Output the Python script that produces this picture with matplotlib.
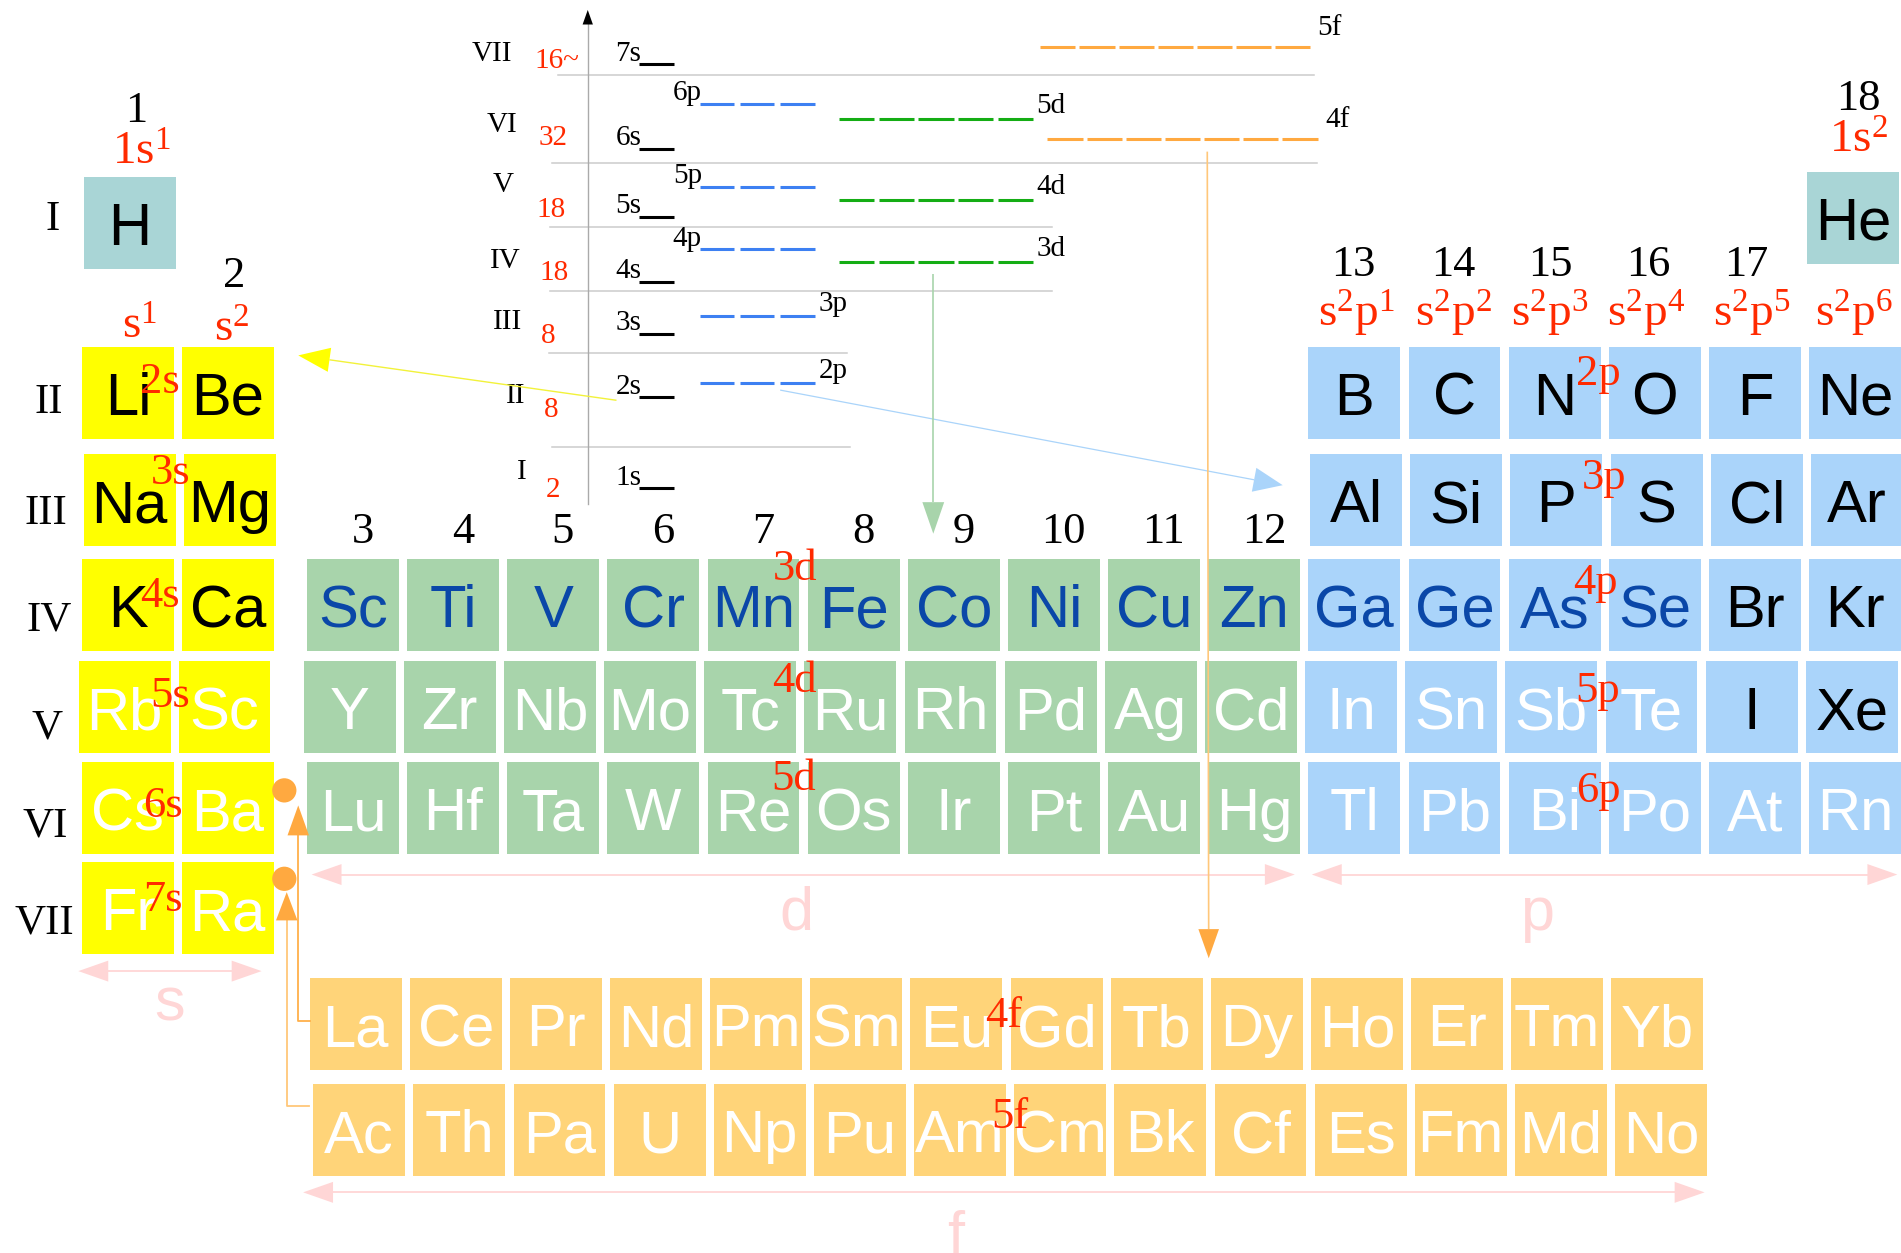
import numpy as np
import matplotlib
matplotlib.use('Agg')
import matplotlib.pyplot as plt
from matplotlib.patches import Rectangle, Polygon, Circle

plt.rcParams['mathtext.fontset'] = 'custom'
plt.rcParams['mathtext.rm'] = 'Liberation Serif'
plt.rcParams['mathtext.it'] = 'Liberation Serif:italic'

SANS = 'Liberation Sans'
SERIF = 'Liberation Serif'

# ---------------------------------------------------------------- data
periods = ['I', 'II', 'III', 'IV', 'V', 'VI', 'VII']

s_symbols = [['Li', 'Be'], ['Na', 'Mg'], ['K', 'Ca'],
             ['Rb', 'Sc'], ['Cs', 'Ba'], ['Fr', 'Ra']]
s_periods = ['II', 'III', 'IV', 'V', 'VI', 'VII']
s_labels = ['2s', '3s', '4s', '5s', '6s', '7s']

d_symbols = [['Sc', 'Ti', 'V', 'Cr', 'Mn', 'Fe', 'Co', 'Ni', 'Cu', 'Zn'],
             ['Y', 'Zr', 'Nb', 'Mo', 'Tc', 'Ru', 'Rh', 'Pd', 'Ag', 'Cd'],
             ['Lu', 'Hf', 'Ta', 'W', 'Re', 'Os', 'Ir', 'Pt', 'Au', 'Hg']]
d_periods = ['IV', 'V', 'VI']
d_labels = ['3d', '4d', '5d']

p_symbols = [['B', 'C', 'N', 'O', 'F', 'Ne'],
             ['Al', 'Si', 'P', 'S', 'Cl', 'Ar'],
             ['Ga', 'Ge', 'As', 'Se', 'Br', 'Kr'],
             ['In', 'Sn', 'Sb', 'Te', 'I', 'Xe'],
             ['Tl', 'Pb', 'Bi', 'Po', 'At', 'Rn']]
p_periods = ['II', 'III', 'IV', 'V', 'VI']
p_labels = ['2p', '3p', '4p', '5p', '6p']

f_symbols = [['La', 'Ce', 'Pr', 'Nd', 'Pm', 'Sm', 'Eu', 'Gd', 'Tb', 'Dy', 'Ho', 'Er', 'Tm', 'Yb'],
             ['Ac', 'Th', 'Pa', 'U', 'Np', 'Pu', 'Am', 'Cm', 'Bk', 'Cf', 'Es', 'Fm', 'Md', 'No']]
f_labels = ['4f', '5f']

# text colour keys: k = black, b = blue, w = white
s_text = ['kk', 'kk', 'kk', 'ww', 'ww', 'ww']
d_text = ['b' * 10, 'w' * 10, 'w' * 10]
p_text = ['kkkkkk', 'kkkkkk', 'bbbbkk', 'wwwwkk', 'wwwwww']

p_configs = ['$\\mathrm{s}^{2}\\mathrm{p}^{%d}$' % n for n in range(1, 7)]

# energy level diagram
diag_periods = ['I', 'II', 'III', 'IV', 'V', 'VI', 'VII']
diag_counts = ['2', '8', '8', '18', '18', '32', '16~']
s_levels = ['1s', '2s', '3s', '4s', '5s', '6s', '7s']
s_level_y = [402.7, 327.7, 275.4, 232.3, 178.7, 122.9, 53.0]
p_levels = ['2p', '3p', '4p', '5p', '6p']
p_level_y = [315.6, 260.6, 205.6, 154.0, 85.8]
d_levels = ['3d', '4d', '5d']
d_level_y = [216.3, 165.0, 98.1]
f_levels = ['4f', '5f']
f_level_y = [114.4, 38.5]

# ---------------------------------------------------------------- layout
row_top = {'I': 145.7, 'II': 286.0, 'III': 374.5, 'IV': 461.0,
           'V': 545.2, 'VI': 628.5, 'VII': 711.0}
row_shift = {'III': 1.5, 'V': -2.7}
CW, CH = 75.8, 75.7
PITCH = 82.6
S_X0 = 67.6
D_X0 = 253.2
F_X0 = 255.4
F_TOP = [806.4, 894.0]
F_SHIFT = [0.0, 3.0]

C_H = '#a9d5d6'
C_S = '#ffff00'
C_D = '#a8d4ab'
C_P = '#aad4fa'
C_F = '#ffd479'
RED = '#ff2a00'
BLUE = '#0a47a8'
PINK = '#ffd6d6'
TXT = {'k': 'black', 'b': BLUE, 'w': 'white'}

fig = plt.figure(figsize=(19.01, 12.53), dpi=100)
ax = fig.add_axes([0, 0, 1, 1])
ax.set_xlim(0, 1568)
ax.set_ylim(1033, 0)
ax.axis('off')


def cell(x, y, color, sym, tcol):
    ax.add_patch(Rectangle((x, y), CW, CH, color=color, lw=0, zorder=2))
    ax.text(x + CW / 2, y + 56, sym, ha='center', va='baseline',
            fontsize=43, color=tcol, family=SANS, zorder=3)


def head(tx, ty, dx, dy, length, width, color):
    n = np.hypot(dx, dy)
    ux, uy = dx / n, dy / n
    bx, by = tx - ux * length, ty - uy * length
    px, py = -uy * width / 2, ux * width / 2
    ax.add_patch(Polygon([(tx, ty), (bx + px, by + py), (bx - px, by - py)],
                         closed=True, color=color, lw=0, zorder=5))
    return bx, by


def arrow(x0, y0, x1, y1, lcolor, hcolor, lw, length, width):
    bx, by = head(x1, y1, x1 - x0, y1 - y0, length, width, hcolor)
    ax.plot([x0, bx], [y0, by], color=lcolor, lw=lw, zorder=4,
            solid_capstyle='butt')


def double_arrow(x0, x1, y, label, lx, ly):
    head(x0, y, -1, 0, 24.7, 17.3, PINK)
    head(x1, y, 1, 0, 24.7, 17.3, PINK)
    ax.plot([x0 + 20, x1 - 20], [y, y], color=PINK, lw=1.3, zorder=4)
    ax.text(lx, ly, label, ha='center', va='baseline',
            fontsize=44, color=PINK, family=SANS, zorder=4)


# H and He
cell(69.3, 145.7, C_H, 'H', 'black')
cell(1490.5, 141.6, C_H, 'He', 'black')

# s block
for r, per in enumerate(s_periods):
    y = row_top[per]
    sh = row_shift.get(per, 0)
    for c in range(2):
        cell(S_X0 + 82.4 * c + sh, y, C_S, s_symbols[r][c], TXT[s_text[r][c]])

# d block
for r, per in enumerate(d_periods):
    y = row_top[per]
    sh = row_shift.get(per, 0)
    for c in range(10):
        cell(D_X0 + PITCH * c + sh, y, C_D, d_symbols[r][c], TXT[d_text[r][c]])

# p block
for r, per in enumerate(p_periods):
    y = row_top[per]
    sh = row_shift.get(per, 0)
    for c in range(6):
        cell(D_X0 + PITCH * (10 + c) + sh, y, C_P, p_symbols[r][c], TXT[p_text[r][c]])

# f block
for r in range(2):
    for c in range(14):
        cell(F_X0 + PITCH * c + F_SHIFT[r], F_TOP[r], C_F, f_symbols[r][c], 'white')

# red sub-shell labels between cells
s_lab_pos = [(132, 324.4), (141, 398.7), (132, 500.4), (140, 582.9), (134, 673.6), (134.5, 751)]
for lab, (x, y) in zip(s_labels, s_lab_pos):
    ax.text(x, y, lab, ha='center', va='baseline', fontsize=32, color=RED,
            family=SERIF, zorder=6)
d_lab_pos = [(656, 478.4), (655, 570.5), (655, 651.6)]
for lab, (x, y) in zip(d_labels, d_lab_pos):
    ax.text(x, y, lab, ha='center', va='baseline', fontsize=32, color=RED,
            family=SERIF, zorder=6)
p_lab_pos = [(1318, 317.5), (1323, 402.8), (1316, 489.4), (1318, 578.7), (1318, 661.2)]
for lab, (x, y) in zip(p_labels, p_lab_pos):
    ax.text(x, y, lab, ha='center', va='baseline', fontsize=32, color=RED,
            family=SERIF, zorder=6)
f_lab_pos = [(828, 846.8), (833, 929.8)]
for lab, (x, y) in zip(f_labels, f_lab_pos):
    ax.text(x, y, lab, ha='center', va='baseline', fontsize=32, color=RED,
            family=SERIF, zorder=6)

# group numbers and configurations
ax.text(112, 100.4, '1', ha='center', va='baseline', fontsize=32, family=SERIF)
ax.text(193, 236.4, '2', ha='center', va='baseline', fontsize=32, family=SERIF)
ax.text(117, 136, '$\\mathrm{1s}^{1}$', ha='center', va='baseline', fontsize=34, color=RED)
ax.text(1533, 126, '$\\mathrm{1s}^{2}$', ha='center', va='baseline', fontsize=34, color=RED)
ax.text(115, 279, '$\\mathrm{s}^{1}$', ha='center', va='baseline', fontsize=34, color=RED)
ax.text(191, 281.8, '$\\mathrm{s}^{2}$', ha='center', va='baseline', fontsize=34, color=RED)
for g in range(3, 13):
    x = D_X0 + PITCH * (g - 3) + CW / 2 + 8
    ax.text(x, 447.6, str(g), ha='center', va='baseline', fontsize=32, family=SERIF)
p_num_x = [1116, 1199, 1279, 1359.5, 1440]
for g, x in zip(range(13, 18), p_num_x):
    ax.text(x, 227.6, str(g), ha='center', va='baseline', fontsize=32, family=SERIF)
ax.text(1532.6, 90.7, '18', ha='center', va='baseline', fontsize=32, family=SERIF)
p_cfg_x = [1119, 1198.6, 1278, 1357.8, 1444.8, 1529]
for cfg, x in zip(p_configs, p_cfg_x):
    ax.text(x, 269.4, cfg, ha='center', va='baseline', fontsize=34, color=RED)

# period labels on the left
per_pos = [(43, 189.7), (40.4, 340.8), (38, 431.7), (40.7, 519.6), (39, 609), (37, 689.6), (36.6, 769.8)]
for per, (x, y) in zip(periods, per_pos):
    ax.text(x, y, per, ha='center', va='baseline', fontsize=31, family=SERIF)

# block arrows and labels
double_arrow(64.6, 215.8, 800.6, 's', 140, 841.3)
double_arrow(257, 1068, 721, 'd', 657, 766.5)
double_arrow(1082, 1565, 721, 'p', 1268, 766.5)
double_arrow(250, 1406, 983, 'f', 788, 1034)

# ---------------------------------------------------------------- energy diagram
grey_lines = [(62.1, 460, 1084), (134.7, 455, 1086), (187.2, 454, 868),
              (240.3, 454, 868), (291.4, 453, 699), (368.4, 455, 701)]
for y, x0, x1 in grey_lines:
    ax.plot([x0, x1], [y, y], color='#cccccc', lw=1.1, zorder=1)

# vertical axis
ax.plot([484.8, 484.8], [415.6, 18], color='#aaaaaa', lw=1.0, zorder=1)
head(484.8, 8.2, 0, -1, 12, 8.5, 'black')

diag_per_pos = [(430, 394.5), (425.6, 332.6), (418.5, 271.6), (417, 221),
                (415, 158), (414, 108.6), (406, 50.3)]
diag_cnt_pos = [(456.5, 409.6), (454.5, 344), (452, 282.6), (457, 231),
                (454.6, 178.7), (456.5, 119.6), (459, 56.4)]
for per, (x, y) in zip(diag_periods, diag_per_pos):
    ax.text(x, y, per, ha='center', va='baseline', fontsize=21, family=SERIF)
for cnt, (x, y) in zip(diag_counts, diag_cnt_pos):
    ax.text(x, y, cnt, ha='center', va='baseline', fontsize=21, family=SERIF, color=RED)


def level(x0, n, dash, gap, y, color):
    for i in range(n):
        xs = x0 + i * (dash + gap)
        ax.plot([xs, xs + dash], [y, y], color=color, lw=2.2, zorder=3,
                solid_capstyle='butt')
    return x0 + n * dash + (n - 1) * gap


for lab, y in zip(s_levels, s_level_y):
    ax.plot([527, 556], [y, y], color='black', lw=2.2, zorder=3, solid_capstyle='butt')
    ax.text(529, y - 3, lab, ha='right', va='baseline', fontsize=21, family=SERIF)

for lab, y in zip(p_levels, p_level_y):
    x_end = level(577, 3, 28.5, 4.75, y, '#3d80f2')
    if lab in ('2p', '3p'):
        ax.text(x_end + 3, y - 4, lab, ha='left', va='baseline', fontsize=21, family=SERIF)
    else:
        ax.text(579, y - 3, lab, ha='right', va='baseline', fontsize=21, family=SERIF)

for lab, y in zip(d_levels, d_level_y):
    x_end = level(692.2, 5, 28.9, 3.8, y, '#14ad14')
    ax.text(x_end + 3, y - 5, lab, ha='left', va='baseline', fontsize=21, family=SERIF)

f_x0 = [864, 858]
for lab, y, x0 in zip(f_levels, f_level_y, f_x0):
    x_end = level(x0, 7, 29, 3.3, y, '#ffa940')
    ax.text(x_end + 6, y - 10, lab, ha='left', va='baseline', fontsize=21, family=SERIF)

# connector arrows
arrow(508.5, 330, 246, 293, '#f2f23a', '#ffff00', 1.0, 26, 20)
arrow(643.5, 321.6, 1058, 400, '#aad4fa', '#aad4fa', 0.9, 24, 20)
arrow(769.8, 225.5, 769.8, 440, '#a8d4ab', '#a8d4ab', 1.2, 26, 18)
arrow(995.8, 125, 997, 790, '#ffc77a', '#ffa940', 1.2, 24, 17)

# lanthanide / actinide markers
ax.add_patch(Circle((234.5, 651.6), 10, color='#ffa940', lw=0, zorder=5))
ax.add_patch(Circle((234.5, 724.5), 10, color='#ffa940', lw=0, zorder=5))
ax.plot([256, 246, 246], [842, 842, 688], color='#ffb04a', lw=1.3, zorder=4)
head(246, 664, 0, -1, 24.7, 17.7, '#ffa940')
ax.plot([255, 236.5, 236.5], [912, 912, 758], color='#ffc77a', lw=1.3, zorder=4)
head(236.5, 735.5, 0, -1, 23.3, 17.7, '#ffa940')

fig.savefig('out.png', dpi=100)
